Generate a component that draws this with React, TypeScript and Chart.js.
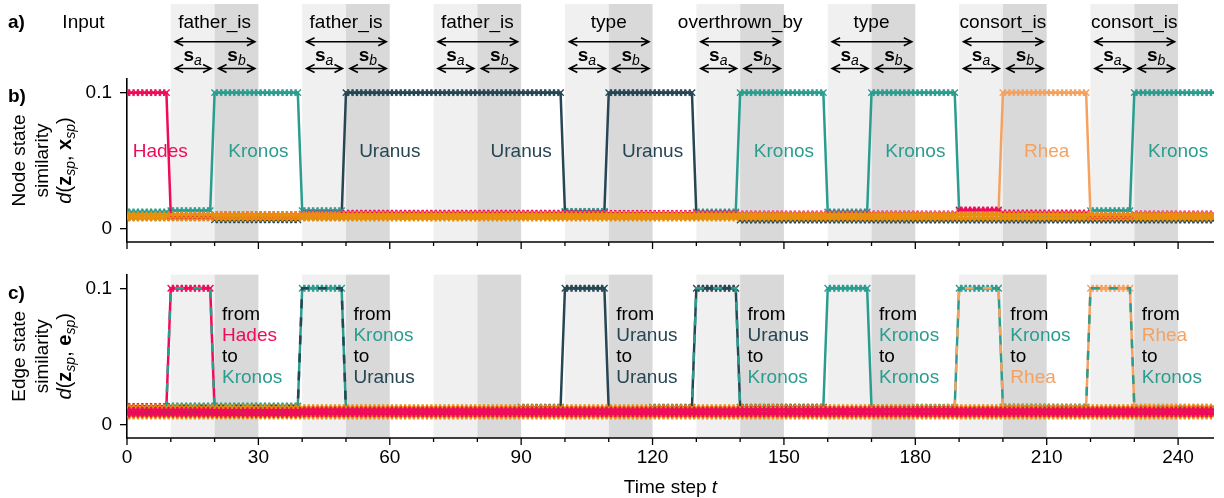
import React, { useEffect, useRef } from 'react';
import { Chart, registerables } from 'chart.js';
Chart.register(...registerables);

const FONT = '"Liberation Sans", Arial, Helvetica, sans-serif';
Chart.defaults.font.family = FONT;

const RED = '#ee0b5a';
const TEAL = '#2a9d8f';
const DARK = '#264653';
const ORANGE = '#f4a261';
const BAND_ORANGE = '#e8900c';
const SHADE_LIGHT = '#f0f0f0';
const SHADE_DARK = '#d9d9d9';

const NAME_COLORS: Record<string, string> = { Hades: RED, Kronos: TEAL, Uranus: DARK, Rhea: ORANGE };

// time axis
const timeSteps = Array.from({ length: 250 }, (_, i) => i);
const xTickLabels = [0, 30, 60, 90, 120, 150, 180, 210, 240];
const xTickMarks = [0, 10, 20, 30, 40, 50, 60, 70, 80, 90, 100, 110, 120, 130, 140, 150, 160, 170, 180, 190, 200, 210, 220, 230, 240];
const yTickValues = [0, 0.1];

// input tokens (a)
const tokenLabels = ['father_is', 'father_is', 'father_is', 'type', 'overthrown_by', 'type', 'consort_is', 'consort_is'];
const tokenStarts = [10, 40, 70, 100, 130, 160, 190, 220];

// node panel (b): values per 10-step segment (25 segments)
const hadesNodeSeg = [0.1, 0.0100, 0.0105, 0.0105, 0.0110, 0.0117, 0.0117, 0.0117, 0.0117, 0.0117, 0.0115, 0.0115, 0.0115, 0.0112, 0.0110, 0.0110, 0.0110, 0.0110, 0.0110, 0.0140, 0.0118, 0.0118, 0.0100, 0.0110, 0.0110];
const kronosNodeSeg = [0.0125, 0.0135, 0.1, 0.1, 0.0135, 0.0090, 0.0090, 0.0090, 0.0090, 0.0090, 0.0130, 0.0090, 0.0090, 0.0125, 0.1, 0.1, 0.0125, 0.1, 0.1, 0.0135, 0.0090, 0.0090, 0.0135, 0.1, 0.1];
const uranusNodeSeg = [0.0085, 0.0085, 0.0068, 0.0068, 0.0085, 0.1, 0.1, 0.1, 0.1, 0.1, 0.0125, 0.1, 0.1, 0.0105, 0.0066, 0.0066, 0.0066, 0.0066, 0.0066, 0.0066, 0.0066, 0.0066, 0.0066, 0.0066, 0.0066];
const rheaNodeSeg = [0.0095, 0.0095, 0.0095, 0.0095, 0.0095, 0.0095, 0.0095, 0.0095, 0.0095, 0.0095, 0.0095, 0.0095, 0.0095, 0.0095, 0.0095, 0.0095, 0.0095, 0.0095, 0.0095, 0.0125, 0.1, 0.1, 0.0095, 0.0095, 0.0095];
const otherNodeSegA = [0.0080, 0.0080, 0.0080, 0.0080, 0.0080, 0.0080, 0.0080, 0.0080, 0.0080, 0.0080, 0.0080, 0.0080, 0.0080, 0.0080, 0.0080, 0.0080, 0.0080, 0.0080, 0.0080, 0.0080, 0.0080, 0.0080, 0.0080, 0.0080, 0.0080];
const otherNodeSegB = [0.0105, 0.0105, 0.0105, 0.0105, 0.0105, 0.0105, 0.0105, 0.0105, 0.0105, 0.0105, 0.0105, 0.0105, 0.0105, 0.0105, 0.0105, 0.0105, 0.0105, 0.0105, 0.0105, 0.0105, 0.0105, 0.0105, 0.0105, 0.0105, 0.0105];

const nodeLabelText = ['Hades', 'Kronos', 'Uranus', 'Uranus', 'Uranus', 'Kronos', 'Kronos', 'Rhea', 'Kronos'];
const nodeLabelX = [7.6, 30, 60, 90, 120, 150, 180, 210, 240];
const nodeLabelY = 0.058;

// edge panel (c)
const edgeFrom = ['Hades', 'Kronos', 'Uranus', 'Uranus', 'Kronos', 'Kronos', 'Rhea'];
const edgeTo = ['Kronos', 'Uranus', 'Uranus', 'Kronos', 'Kronos', 'Rhea', 'Kronos'];
const hkEdgeSeg = [0.0135, 0.1, 0.0100, 0.0100, 0.0095, 0.0095, 0.0095, 0.0095, 0.0095, 0.0095, 0.0095, 0.0095, 0.0095, 0.0095, 0.0095, 0.0095, 0.0095, 0.0095, 0.0095, 0.0095, 0.0095, 0.0095, 0.0095, 0.0095, 0.0095];
const kuEdgeSeg = [0.0110, 0.0139, 0.0139, 0.0139, 0.1, 0.0100, 0.0100, 0.0100, 0.0100, 0.0100, 0.0100, 0.0100, 0.0100, 0.0100, 0.0100, 0.0100, 0.0100, 0.0100, 0.0100, 0.0100, 0.0100, 0.0100, 0.0100, 0.0100, 0.0100];
const uuEdgeSeg = [0.0100, 0.0100, 0.0100, 0.0100, 0.0100, 0.0100, 0.0100, 0.0100, 0.0100, 0.0130, 0.1, 0.0105, 0.0105, 0.0105, 0.0105, 0.0105, 0.0105, 0.0105, 0.0105, 0.0105, 0.0105, 0.0105, 0.0105, 0.0105, 0.0105];
const ukEdgeSeg = [0.0105, 0.0105, 0.0105, 0.0105, 0.0105, 0.0105, 0.0105, 0.0105, 0.0105, 0.0105, 0.0105, 0.0105, 0.0130, 0.1, 0.0130, 0.0130, 0.0105, 0.0105, 0.0105, 0.0105, 0.0105, 0.0105, 0.0105, 0.0105, 0.0105];
const kkEdgeSeg = [0.0105, 0.0105, 0.0105, 0.0105, 0.0105, 0.0105, 0.0105, 0.0105, 0.0105, 0.0105, 0.0105, 0.0105, 0.0105, 0.0105, 0.0105, 0.0130, 0.1, 0.0125, 0.0125, 0.0105, 0.0105, 0.0105, 0.0105, 0.0105, 0.0105];
const krEdgeSeg = [0.0100, 0.0100, 0.0100, 0.0100, 0.0100, 0.0100, 0.0100, 0.0100, 0.0100, 0.0100, 0.0100, 0.0100, 0.0100, 0.0100, 0.0100, 0.0100, 0.0100, 0.0100, 0.0130, 0.1, 0.0132, 0.0132, 0.0100, 0.0100, 0.0100];
const rkEdgeSeg = [0.0105, 0.0105, 0.0105, 0.0105, 0.0105, 0.0105, 0.0105, 0.0105, 0.0105, 0.0105, 0.0105, 0.0105, 0.0105, 0.0105, 0.0105, 0.0105, 0.0105, 0.0105, 0.0105, 0.0105, 0.0105, 0.0125, 0.1, 0.0132, 0.0132];
const edgeSegs = [hkEdgeSeg, kuEdgeSeg, uuEdgeSeg, ukEdgeSeg, kkEdgeSeg, krEdgeSeg, rkEdgeSeg];
const otherEdgeRedA = [0.0080, 0.0080, 0.0078, 0.0078, 0.0082, 0.0082, 0.0082, 0.0082, 0.0082, 0.0082, 0.0082, 0.0082, 0.0082, 0.0082, 0.0082, 0.0082, 0.0082, 0.0082, 0.0082, 0.0082, 0.0082, 0.0082, 0.0082, 0.0082, 0.0082];
const otherEdgeRedB = [0.0108, 0.0108, 0.0105, 0.0105, 0.0110, 0.0110, 0.0110, 0.0110, 0.0110, 0.0110, 0.0110, 0.0110, 0.0110, 0.0110, 0.0112, 0.0112, 0.0112, 0.0112, 0.0112, 0.0110, 0.0110, 0.0110, 0.0110, 0.0110, 0.0110];
const otherEdgeOrangeA = [0.0066, 0.0066, 0.0066, 0.0066, 0.0066, 0.0066, 0.0066, 0.0066, 0.0066, 0.0066, 0.0066, 0.0066, 0.0066, 0.0066, 0.0066, 0.0066, 0.0066, 0.0066, 0.0066, 0.0066, 0.0066, 0.0066, 0.0066, 0.0066, 0.0066];
const otherEdgeOrangeB = [0.0126, 0.0126, 0.0126, 0.0126, 0.0126, 0.0126, 0.0126, 0.0126, 0.0126, 0.0126, 0.0126, 0.0126, 0.0126, 0.0126, 0.0126, 0.0126, 0.0126, 0.0126, 0.0126, 0.0126, 0.0126, 0.0126, 0.0126, 0.0126, 0.0126];
const edgeLabelX = [21.7, 51.7, 111.7, 141.7, 171.7, 201.7, 231.7];
const edgeLabelY = 0.082;

// ---------- helpers ----------
const expand = (seg: number[]) => timeSteps.map((t) => ({ x: t, y: seg[Math.floor(t / 10)] }));

const lineDs = (seg: number[], color: string, extra: any = {}) => ({
  data: expand(seg),
  borderColor: color,
  backgroundColor: color,
  borderWidth: 2.5,
  pointStyle: 'crossRot',
  pointRadius: 4.5,
  pointBorderWidth: 1.4,
  pointBorderColor: color,
  pointBackgroundColor: color,
  tension: 0,
  fill: false,
  ...extra,
});

type Run = { text: string; style?: string; size?: number; dy?: number; color?: string };

function drawRuns(ctx: CanvasRenderingContext2D, runs: Run[], x: number, y: number, align: 'center' | 'left') {
  let total = 0;
  const widths = runs.map((r) => {
    ctx.font = `${r.style || 'normal'} ${r.size || 19}px ${FONT}`;
    const w = ctx.measureText(r.text).width;
    total += w;
    return w;
  });
  let cx = align === 'center' ? x - total / 2 : x;
  ctx.textAlign = 'left';
  ctx.textBaseline = 'alphabetic';
  runs.forEach((r, i) => {
    ctx.font = `${r.style || 'normal'} ${r.size || 19}px ${FONT}`;
    ctx.fillStyle = r.color || '#000';
    ctx.fillText(r.text, cx, y + (r.dy || 0));
    cx += widths[i];
  });
}

function drawRotated(ctx: CanvasRenderingContext2D, runs: Run[], xc: number, yc: number) {
  ctx.save();
  ctx.translate(xc, yc);
  ctx.rotate(-Math.PI / 2);
  drawRuns(ctx, runs, 0, 7, 'center');
  ctx.restore();
}

function arrow(ctx: CanvasRenderingContext2D, x1: number, x2: number, y: number) {
  const hl = 8, hw = 4;
  ctx.beginPath();
  ctx.moveTo(x1, y);
  ctx.lineTo(x2, y);
  ctx.moveTo(x1 + hl, y - hw);
  ctx.lineTo(x1, y);
  ctx.lineTo(x1 + hl, y + hw);
  ctx.moveTo(x2 - hl, y - hw);
  ctx.lineTo(x2, y);
  ctx.lineTo(x2 - hl, y + hw);
  ctx.stroke();
}

const shadePlugin = (topOffset: number | null) => ({
  id: 'shade',
  beforeDraw(chart: any) {
    const { ctx, chartArea, scales } = chart;
    const x = scales.x;
    const top = topOffset === null ? chartArea.top : topOffset;
    ctx.save();
    tokenStarts.forEach((s) => {
      const a = x.getPixelForValue(s);
      const m = x.getPixelForValue(s + 10);
      const b = x.getPixelForValue(s + 20);
      ctx.fillStyle = SHADE_LIGHT;
      ctx.fillRect(a, top, m - a, chartArea.bottom - top);
      ctx.fillStyle = SHADE_DARK;
      ctx.fillRect(m, top, b - m, chartArea.bottom - top);
    });
    ctx.restore();
  },
});

const xAxisPlugin = {
  id: 'xaxis',
  afterDatasetsDraw(chart: any) {
    const { ctx, chartArea, scales } = chart;
    const x = scales.x;
    ctx.save();
    ctx.strokeStyle = '#000';
    ctx.lineWidth = 1.6;
    ctx.beginPath();
    ctx.moveTo(chartArea.left - 0.8, chartArea.bottom);
    ctx.lineTo(chartArea.right, chartArea.bottom);
    ctx.stroke();
    ctx.lineWidth = 1.3;
    xTickMarks.forEach((t) => {
      const px = x.getPixelForValue(t);
      const len = t % 30 === 0 ? 7 : 4;
      ctx.beginPath();
      ctx.moveTo(px, chartArea.bottom);
      ctx.lineTo(px, chartArea.bottom + len);
      ctx.stroke();
    });
    ctx.restore();
  },
};

const mathLabel = (v: string): Run[] => [
  { text: 'd', style: 'italic', size: 20 },
  { text: '(', size: 20 },
  { text: 'z', style: 'bold', size: 20 },
  { text: 'sp', style: 'italic', size: 14, dy: 4 },
  { text: ', ', size: 20 },
  { text: v, style: 'bold', size: 20 },
  { text: 'sp', style: 'italic', size: 14, dy: 4 },
  { text: ')', size: 20 },
];

const nodeTextPlugin = {
  id: 'nodeText',
  afterDraw(chart: any) {
    const { ctx, chartArea, scales } = chart;
    const x = scales.x;
    const y = scales.y;
    ctx.save();
    // a) Input row
    drawRuns(ctx, [{ text: 'a)', style: 'bold' }], 8, 28, 'left');
    drawRuns(ctx, [{ text: 'Input' }], 83.5, 28, 'center');
    ctx.strokeStyle = '#000';
    ctx.fillStyle = '#000';
    ctx.lineWidth = 1.6;
    tokenStarts.forEach((s, i) => {
      drawRuns(ctx, [{ text: tokenLabels[i] }], x.getPixelForValue(s + 10), 28, 'center');
      arrow(ctx, x.getPixelForValue(s + 1), x.getPixelForValue(s + 19.2), 41.7);
      arrow(ctx, x.getPixelForValue(s + 1), x.getPixelForValue(s + 9.2), 68.5);
      arrow(ctx, x.getPixelForValue(s + 10.9), x.getPixelForValue(s + 19.2), 68.5);
      drawRuns(ctx, [{ text: 's', style: 'bold', size: 19 }, { text: 'a', style: 'italic', size: 14, dy: 4 }], x.getPixelForValue(s + 5), 61, 'center');
      drawRuns(ctx, [{ text: 's', style: 'bold', size: 19 }, { text: 'b', style: 'italic', size: 14, dy: 4 }], x.getPixelForValue(s + 15), 61, 'center');
    });
    // b) label and y title
    drawRuns(ctx, [{ text: 'b)', style: 'bold' }], 8, 102, 'left');
    const cy = (chartArea.top + chartArea.bottom) / 2;
    drawRotated(ctx, [{ text: 'Node state' }], 18, cy);
    drawRotated(ctx, [{ text: 'similarity' }], 41, cy);
    drawRotated(ctx, mathLabel('x'), 64, cy);
    // node labels
    const ly = y.getPixelForValue(nodeLabelY) + 7;
    nodeLabelText.forEach((name, i) => {
      drawRuns(ctx, [{ text: name, color: NAME_COLORS[name] }], x.getPixelForValue(nodeLabelX[i]), ly, 'center');
    });
    ctx.restore();
  },
};

const edgeTextPlugin = {
  id: 'edgeText',
  afterDraw(chart: any) {
    const { ctx, chartArea, scales } = chart;
    const x = scales.x;
    const y = scales.y;
    ctx.save();
    drawRuns(ctx, [{ text: 'c)', style: 'bold' }], 8, 44, 'left');
    const cy = (chartArea.top + chartArea.bottom) / 2;
    drawRotated(ctx, [{ text: 'Edge state' }], 18, cy);
    drawRotated(ctx, [{ text: 'similarity' }], 41, cy);
    drawRotated(ctx, mathLabel('e'), 64, cy);
    const base = y.getPixelForValue(edgeLabelY) + 7;
    edgeFrom.forEach((from, i) => {
      const lx = x.getPixelForValue(edgeLabelX[i]);
      const to = edgeTo[i];
      drawRuns(ctx, [{ text: 'from' }], lx, base, 'left');
      drawRuns(ctx, [{ text: from, color: NAME_COLORS[from] }], lx, base + 21, 'left');
      drawRuns(ctx, [{ text: 'to' }], lx, base + 42, 'left');
      drawRuns(ctx, [{ text: to, color: NAME_COLORS[to] }], lx, base + 63, 'left');
    });
    drawRuns(ctx, [{ text: 'Time step ' }, { text: 't', style: 'italic' }], (chartArea.left + chartArea.right) / 2, 238, 'center');
    ctx.restore();
  },
};

const yScale = () => ({
  type: 'linear',
  min: -0.0095,
  max: 0.11,
  afterFit: (s: any) => {
    s.width = 127;
    s.paddingTop = 0;
    s.paddingBottom = 0;
  },
  afterBuildTicks: (s: any) => {
    s.ticks = yTickValues.map((v) => ({ value: v }));
  },
  ticks: {
    font: { size: 19, family: FONT },
    color: '#000',
    padding: 8,
    callback: (v: any) => (v === 0 ? '0' : '0.1'),
  },
  grid: { display: true, drawOnChartArea: false, drawTicks: true, tickLength: 7, color: '#000', lineWidth: 1.3 },
  border: { display: true, color: '#000', width: 1.6 },
});

export default function App() {
  const ref1 = useRef<HTMLCanvasElement>(null);
  const ref2 = useRef<HTMLCanvasElement>(null);
  useEffect(() => {
    const nodeDatasets = [
      lineDs(otherNodeSegB, BAND_ORANGE, { borderWidth: 3 }),
      lineDs(hadesNodeSeg, RED),
      lineDs(otherNodeSegA, BAND_ORANGE, { borderWidth: 3 }),
      lineDs(rheaNodeSeg, ORANGE),
      lineDs(kronosNodeSeg, TEAL),
      lineDs(uranusNodeSeg, DARK),
    ];
    const edgeDatasets: any[] = [
      lineDs(otherEdgeRedB, RED, { borderWidth: 3 }),
      lineDs(otherEdgeRedA, RED, { borderWidth: 3 }),
      lineDs(otherEdgeOrangeB, BAND_ORANGE, { borderWidth: 2 }),
      lineDs(otherEdgeOrangeA, BAND_ORANGE, { borderWidth: 2 }),
    ];
    edgeSegs.forEach((seg, i) => {
      const cf = NAME_COLORS[edgeFrom[i]];
      const ct = NAME_COLORS[edgeTo[i]];
      if (cf !== ct) {
        edgeDatasets.push(lineDs(seg, ct, { pointRadius: 0, borderDash: [9, 9] }));
      }
      edgeDatasets.push(lineDs(seg, cf));
    });

    const common = (padTop: number, padBottom: number) => ({
      animation: false,
      responsive: false,
      devicePixelRatio: 1,
      events: [],
      layout: { padding: { top: padTop, bottom: padBottom, left: 0, right: 10 } },
      plugins: { legend: { display: false }, tooltip: { enabled: false } },
    });

    const c1 = new Chart(ref1.current as HTMLCanvasElement, {
      type: 'line',
      data: { datasets: nodeDatasets as any },
      options: {
        ...common(79, 13),
        scales: {
          x: { type: 'linear', min: 0, max: 248.2, display: false },
          y: yScale(),
        },
      } as any,
      plugins: [shadePlugin(4), xAxisPlugin, nodeTextPlugin],
    });

    const c2 = new Chart(ref2.current as HTMLCanvasElement, {
      type: 'line',
      data: { datasets: edgeDatasets },
      options: {
        ...common(19.6, 0),
        scales: {
          x: {
            type: 'linear',
            min: 0,
            max: 248.2,
            afterFit: (s: any) => {
              s.height = 60;
            },
            afterBuildTicks: (s: any) => {
              s.ticks = xTickLabels.map((v) => ({ value: v }));
            },
            ticks: { font: { size: 19, family: FONT }, color: '#000', padding: 8, maxRotation: 0, autoSkip: false, callback: (v: any) => String(v) },
            grid: { display: false, drawTicks: false },
            border: { display: false },
          },
          y: yScale(),
        },
      } as any,
      plugins: [shadePlugin(null), xAxisPlugin, edgeTextPlugin],
    });
    return () => {
      c1.destroy();
      c2.destroy();
    };
  }, []);
  return (
    <div style={{ position: 'fixed', left: 0, top: 0, width: 1224, height: 498, background: '#fff' }}>
      <canvas ref={ref1} width={1224} height={255} style={{ position: 'absolute', left: 0, top: 0 }} />
      <canvas ref={ref2} width={1224} height={243} style={{ position: 'absolute', left: 0, top: 255 }} />
    </div>
  );
}
